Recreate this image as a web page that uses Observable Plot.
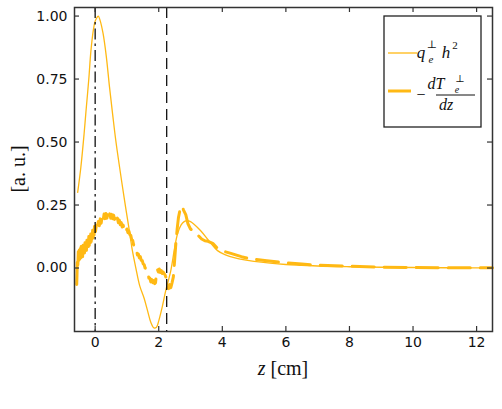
<!DOCTYPE html>
<html><head><meta charset="utf-8">
<script src="https://cdn.jsdelivr.net/npm/d3@7"></script>
<script src="https://cdn.jsdelivr.net/npm/@observablehq/plot@0.6"></script>
<style>
body{margin:0;background:#fff;}
#chart{position:relative;width:502px;height:409px;}
</style>
</head><body><div id="chart"></div>
<script>
// q_e^perp h^2 (solid)
const solidX = [-0.55,-0.45,-0.35,-0.29,-0.2,-0.135,-0.05,0.0,0.07,0.1,0.15,0.25,0.35,0.45,0.55,0.65,0.78,0.91,1.06,1.17,1.28,1.4,1.54,1.65,1.75,1.85,1.93,2.0,2.1,2.22,2.38,2.5,2.59,2.7,2.8,2.9,3.0,3.1,3.32,3.6,3.85,4.1,4.4,4.7,5.0,5.5,6.0,6.5,7.0,8.0,9.0,10.0,11.0,12.5];
const solidY = [0.30,0.40,0.53,0.62,0.75,0.86,0.95,0.98,0.997,1.0,0.985,0.93,0.84,0.72,0.61,0.505,0.39,0.28,0.16,0.07,0.0,-0.07,-0.12,-0.17,-0.215,-0.238,-0.235,-0.21,-0.16,-0.09,-0.01,0.08,0.135,0.17,0.184,0.188,0.184,0.175,0.148,0.105,0.069,0.052,0.040,0.032,0.026,0.019,0.014,0.011,0.008,0.005,0.003,0.002,0.001,0.0005];

// -dT_e^perp/dz (thick dashed, noisy)
const dashX = [-0.58,-0.57,-0.56,-0.545,-0.53,-0.515,-0.50,-0.485,-0.47,-0.455,-0.44,-0.425,-0.41,-0.395,-0.38,-0.365,-0.35,-0.335,-0.32,-0.305,-0.29,-0.275,-0.26,-0.245,-0.23,-0.215,-0.20,-0.185,-0.17,-0.155,-0.14,-0.125,-0.11,-0.095,-0.08,-0.065,-0.05,-0.035,-0.02,0.01,0.04,0.07,0.10,0.13,0.16,0.19,0.22,0.25,0.28,0.31,0.34,0.37,0.40,0.43,0.46,0.49,0.52,0.55,0.58,0.61,0.64,0.67,0.70,0.73,0.76,0.79,0.82,0.85,0.88,0.91,0.94,0.97,1.00,1.03,1.06,1.09,1.12,1.15,1.18,1.21,1.24,1.27,1.30,1.33,1.36,1.39,1.42,1.45,1.48,1.51,1.54,1.57,1.60,1.63,1.66,1.69,1.72,1.75,1.78,1.81,1.84,1.87,1.90,1.93,1.96,1.99,2.02,2.05,2.08,2.11,2.14,2.20,2.25,2.28,2.31,2.34,2.38,2.42,2.46,2.50,2.54,2.58,2.62,2.66,2.70,2.74,2.78,2.85,2.92,3.0,3.1,3.17,3.25,3.35,3.45,3.55,3.7,3.85,4.0,4.27,4.6,4.9,5.4,5.95,6.5,7.0,8.0,9.0,10.0,11.0,12.5];
const dashY = [-0.065,-0.02,0.035,0.01,0.065,0.025,0.07,0.035,0.08,0.04,0.085,0.05,0.075,0.045,0.09,0.055,0.085,0.06,0.10,0.065,0.095,0.07,0.11,0.08,0.105,0.085,0.125,0.09,0.12,0.10,0.135,0.105,0.14,0.115,0.15,0.12,0.155,0.13,0.165,0.145,0.172,0.155,0.185,0.168,0.195,0.178,0.205,0.188,0.214,0.196,0.216,0.198,0.218,0.2,0.215,0.198,0.213,0.196,0.21,0.193,0.205,0.186,0.198,0.18,0.19,0.172,0.18,0.163,0.17,0.155,0.162,0.147,0.155,0.14,0.147,0.132,0.13,0.112,0.11,0.092,0.09,0.07,0.07,0.052,0.055,0.04,0.045,0.03,0.03,0.016,0.014,0.0,-0.002,-0.02,-0.022,-0.04,-0.04,-0.055,-0.046,-0.058,-0.05,-0.062,-0.058,-0.02,-0.006,-0.016,-0.004,-0.018,-0.01,-0.022,-0.016,-0.028,-0.045,-0.07,-0.082,-0.066,-0.078,-0.058,-0.035,0.03,0.10,0.155,0.20,0.225,0.245,0.245,0.23,0.212,0.175,0.155,0.145,0.135,0.128,0.115,0.108,0.106,0.098,0.078,0.068,0.058,0.045,0.036,0.029,0.021,0.016,0.011,0.007,0.003,0.002,0.001,0.001,0.0];

const xTicks = [0, 2, 4, 6, 8, 10, 12];
const yTicks = [0, 0.25, 0.5, 0.75, 1.0];
const dashDotAt = [0];
const dashedAt = [2.25];

const color = "#ffb914";
const solid = solidX.map((x, i) => ({x, y: solidY[i]}));
const dashed = dashX.map((x, i) => ({x, y: dashY[i]}));

const W = 502, H = 409, mL = 74, mR = 10, mT = 7, mB = 78;
const fw = W - mL - mR, fh = H - mT - mB, tk = 5;

const plot = Plot.plot({
  width: W, height: H,
  marginLeft: mL, marginRight: mR, marginTop: mT, marginBottom: mB,
  x: {domain: [-0.65, 12.5]},
  y: {domain: [-0.252, 1.034]},
  style: {fontFamily: "DejaVu Sans", fontSize: "14px", color: "#111", background: "#fff"},
  marks: [
    Plot.line(dashed, {x: "x", y: "y", stroke: color, strokeWidth: 3, strokeDasharray: "22,10"}),
    Plot.line(solid, {x: "x", y: "y", stroke: color, strokeWidth: 1.3, curve: "catmull-rom"}),
    Plot.ruleX(dashDotAt, {x: d => d, stroke: "#111", strokeWidth: 1.3, strokeDasharray: "11,4,2.5,4"}),
    Plot.ruleX(dashedAt, {x: d => d, stroke: "#111", strokeWidth: 1.3, strokeDasharray: "11,6"}),
    Plot.tickX(xTicks, {x: d => d, insetTop: fh - tk, stroke: "#333", strokeWidth: 1.2}),
    Plot.tickX(xTicks, {x: d => d, insetBottom: fh - tk, stroke: "#333", strokeWidth: 1.2}),
    Plot.tickY(yTicks, {y: d => d, insetRight: fw - tk, stroke: "#333", strokeWidth: 1.2}),
    Plot.tickY(yTicks, {y: d => d, insetLeft: fw - tk, stroke: "#333", strokeWidth: 1.2}),
    Plot.axisX(xTicks, {tickSize: 0, tickPadding: 6, fontSize: 14, label: null}),
    Plot.axisY(yTicks, {tickSize: 0, tickPadding: 7, fontSize: 14, label: null, tickFormat: d3.format(".2f")}),
    Plot.frame({stroke: "#333", strokeWidth: 1.5})
  ]
});
document.getElementById("chart").appendChild(plot);

const svg = d3.select(plot);
const serif = "'Liberation Serif', 'DejaVu Serif', serif";
// axis labels
const xl = svg.append("text").attr("x", mL + fw / 2).attr("y", 375).attr("text-anchor", "middle")
  .attr("font-family", serif).attr("font-size", 20).attr("fill", "#111");
xl.append("tspan").attr("font-style", "italic").text("z");
xl.append("tspan").text(" [cm]");
svg.append("text").attr("transform", `translate(25,${mT + fh / 2}) rotate(-90)`).attr("text-anchor", "middle")
  .attr("font-family", serif).attr("font-size", 20).attr("fill", "#111").text("[a. u.]");

// legend
const lg = svg.append("g").attr("font-family", serif).attr("fill", "#111");
lg.append("rect").attr("x", 384).attr("y", 16).attr("width", 97).attr("height", 111)
  .attr("fill", "#fff").attr("stroke", "#222").attr("stroke-width", 1.3);
lg.append("line").attr("x1", 388).attr("x2", 417).attr("y1", 53).attr("y2", 53)
  .attr("stroke", color).attr("stroke-width", 1.3);
lg.append("line").attr("x1", 388).attr("x2", 411).attr("y1", 91).attr("y2", 91)
  .attr("stroke", color).attr("stroke-width", 3);
function t(x, y, s, size, italic) {
  lg.append("text").attr("x", x).attr("y", y).attr("font-size", size)
    .attr("font-style", italic ? "italic" : "normal").text(s);
}
t(421, 58, "q", 17, true);
t(431, 63, "e", 11, true);
t(432, 48, "⊥", 11, false);
t(446, 58, "h", 17, true);
t(455, 49, "2", 11, false);
t(421, 100, "−", 16, false);
t(436, 89, "dT", 16, true);
t(457, 93, "e", 10, true);
t(460, 82, "⊥", 10, false);
lg.append("line").attr("x1", 436).attr("x2", 475).attr("y1", 95).attr("y2", 95)
  .attr("stroke", "#111").attr("stroke-width", 1);
t(446, 110, "dz", 16, true);
</script>
</body></html>
